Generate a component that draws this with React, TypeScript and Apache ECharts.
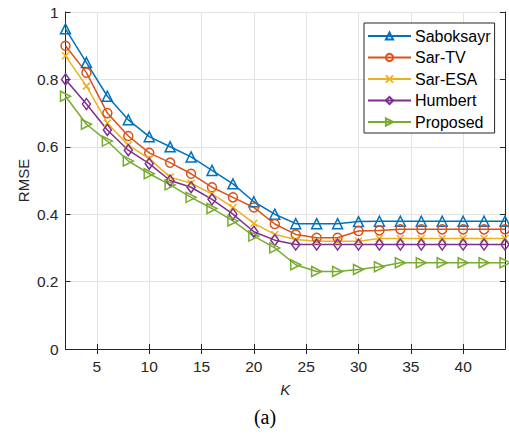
import React, { useEffect, useRef } from "react";
import * as echarts from "echarts";

const K = [2, 4, 6, 8, 10, 12, 14, 16, 18, 20, 22, 24, 26, 28, 30, 32, 34, 36, 38, 40, 42, 44];
const saboksayr = [0.95, 0.85, 0.75, 0.68, 0.63, 0.6, 0.57, 0.53, 0.49, 0.437, 0.4, 0.372, 0.372, 0.372, 0.378, 0.379, 0.379, 0.379, 0.379, 0.379, 0.379, 0.379];
const sarTV = [0.9, 0.82, 0.7, 0.632, 0.582, 0.553, 0.52, 0.48, 0.45, 0.42, 0.371, 0.34, 0.33, 0.33, 0.35, 0.352, 0.355, 0.355, 0.355, 0.355, 0.355, 0.355];
const sarESA = [0.87, 0.78, 0.67, 0.605, 0.565, 0.51, 0.492, 0.46, 0.42, 0.373, 0.34, 0.325, 0.32, 0.32, 0.32, 0.328, 0.328, 0.328, 0.328, 0.328, 0.328, 0.328];
const humbert = [0.8, 0.727, 0.65, 0.59, 0.55, 0.5, 0.48, 0.444, 0.4, 0.348, 0.323, 0.31, 0.31, 0.31, 0.31, 0.31, 0.31, 0.31, 0.31, 0.31, 0.31, 0.31];
const proposed = [0.75, 0.667, 0.617, 0.558, 0.52, 0.487, 0.45, 0.417, 0.38, 0.335, 0.3, 0.25, 0.23, 0.23, 0.236, 0.244, 0.256, 0.256, 0.256, 0.256, 0.256, 0.256];
const xTicks = [5, 10, 15, 20, 25, 30, 35, 40];
const names = ["Saboksayr", "Sar-TV", "Sar-ESA", "Humbert", "Proposed"];
const colors = ["#0072BD", "#D95319", "#EDB120", "#7E2F8E", "#77AC30"];

export default function App() {
  const ref = useRef<HTMLDivElement>(null);
  useEffect(() => {
    document.body.style.margin = "0";
    const chart = echarts.init(ref.current!, null, { renderer: "svg" });
    const axisColor = "#262626";
    const font = "'Liberation Sans', Arial, Helvetica, sans-serif";
    const data = [saboksayr, sarTV, sarESA, humbert, proposed];
    const symbols: any[] = [
      "triangle",
      "circle",
      "path://M0,0L10,10M10,0L0,10",
      "diamond",
      "path://M0,0L10,5L0,10Z",
    ];
    const sizes: any[] = [10, 9, 7, [8, 11], 10];
    const series = data.map((vals, i) => ({
      name: names[i],
      type: "line",
      data: K.map((k, j) => [k, vals[j]]),
      symbol: symbols[i],
      symbolSize: sizes[i],
      showAllSymbol: true,
      clip: false,
      lineStyle: { color: colors[i], width: 1.5 },
      itemStyle: { color: "rgba(255,255,255,0)", borderColor: colors[i], borderWidth: 1.5 },
      emphasis: { disabled: true },
    }));
    chart.setOption({
      animation: false,
      textStyle: { fontFamily: font },
      grid: { left: 65.5, right: 4, top: 12, bottom: 87 },
      legend: {
        orient: "vertical",
        left: 364,
        top: 23,
        padding: [4, 4, 2, 3],
        itemWidth: 43,
        itemHeight: 9,
        itemGap: 3.5,
        backgroundColor: "#fff",
        borderColor: axisColor,
        borderWidth: 1,
        borderRadius: 0,
        textStyle: { fontSize: 16, color: "#000", lineHeight: 18, fontFamily: font, padding: [0, 0, 0, -1] },
        data: names,
      },
      xAxis: [
        {
          type: "value",
          min: 2,
          max: 44,
          name: "K",
          nameLocation: "middle",
          nameGap: 33,
          nameTextStyle: { fontSize: 15, fontStyle: "italic", color: axisColor, fontFamily: font },
          axisLine: { lineStyle: { color: axisColor, width: 1 } },
          axisTick: { inside: true, length: 5, customValues: xTicks, lineStyle: { color: axisColor } },
          axisLabel: { customValues: xTicks, fontSize: 15.5, color: axisColor, margin: 9 },
          splitLine: { show: true, lineStyle: { color: "#e3e3e3", width: 1 } },
        },
        {
          type: "value",
          position: "top",
          min: 2,
          max: 44,
          axisLine: { lineStyle: { color: axisColor, width: 1 } },
          axisTick: { inside: true, length: 5, customValues: xTicks, lineStyle: { color: axisColor } },
          axisLabel: { show: false },
          splitLine: { show: false },
        },
      ],
      yAxis: [
        {
          type: "value",
          min: 0,
          max: 1,
          interval: 0.2,
          name: "RMSE",
          nameLocation: "middle",
          nameGap: 35,
          nameMoveOverlap: false,
          nameTextStyle: { fontSize: 15, color: axisColor, fontFamily: font },
          axisLine: { show: true, lineStyle: { color: axisColor, width: 1 } },
          axisTick: { show: true, inside: true, length: 5, lineStyle: { color: axisColor } },
          axisLabel: { fontSize: 15.5, color: axisColor, margin: 7 },
          splitLine: { show: true, lineStyle: { color: "#e3e3e3", width: 1 } },
        },
        {
          type: "value",
          position: "right",
          min: 0,
          max: 1,
          interval: 0.2,
          axisLine: { show: true, lineStyle: { color: axisColor, width: 1 } },
          axisTick: { show: true, inside: true, length: 5, lineStyle: { color: axisColor } },
          axisLabel: { show: false },
          splitLine: { show: false },
        },
      ],
      graphic: [
        {
          type: "text",
          x: 265,
          y: 417,
          style: {
            text: "(a)",
            font: "20px 'Liberation Serif', 'Times New Roman', serif",
            fill: "#000",
            textAlign: "center",
            textVerticalAlign: "middle",
          },
        },
      ],
      series,
    });
    return () => chart.dispose();
  }, []);
  return <div ref={ref} style={{ width: 509, height: 436 }} />;
}
